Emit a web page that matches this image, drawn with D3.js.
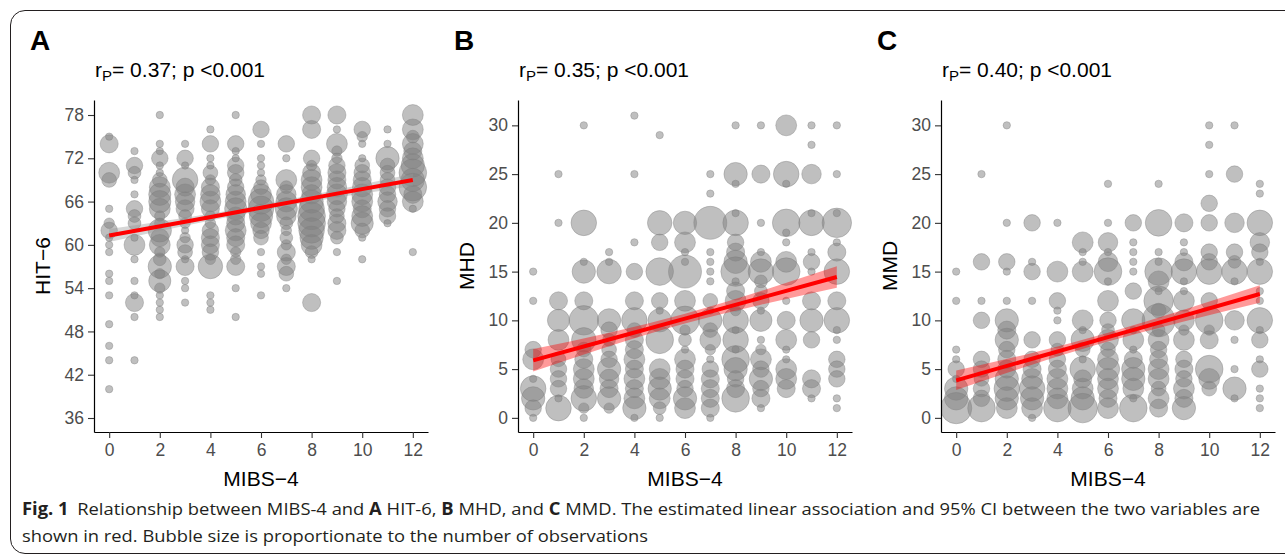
<!DOCTYPE html>
<html>
<head>
<meta charset="utf-8">
<script src="https://cdn.jsdelivr.net/npm/d3@7"></script>
<style>
  body { margin: 0; background: #fff; }
  svg text { font-family: "Liberation Sans", Arial, sans-serif; }
</style>
</head>
<body>
<svg id="fig" width="1285" height="555"></svg>
<script>
// MIBS-4 score (x) and the tick values of the axes
const mibs = [0, 1, 2, 3, 4, 5, 6, 7, 8, 9, 10, 11, 12]
const mibsTicks = [0, 2, 4, 6, 8, 10, 12]
const hitTicks = [36, 42, 48, 54, 60, 66, 72, 78]
const dayTicks = [0, 5, 10, 15, 20, 25, 30]

// bubbles: one list per MIBS-4 value, each entry [score, number of observations]
const hitCounts = [
    [[75,1],[74,6],[70,8],[69,4],[65,1],[63,2],[62,5],[61,1],[60,1],[59,1],[56,1],[55,1],[53,1],[49,1],[46,1],[44,1],[40,1]],
    [[73,1],[71,5],[70,3],[69,1],[67,1],[65,5],[64,3],[63,3],[61,1],[60,8],[58,1],[55,1],[53,1],[52,6],[50,1],[44,1]],
    [[78,1],[74,1],[73,1],[72,5],[71,1],[70,1],[69,4],[68,8],[67,9],[66,9],[65,8],[64,2],[63,2],[62,10],[61,6],[60,8],[59,2],[58,3],[57,10],[56,2],[55,9],[54,2],[53,1],[52,1],[51,1],[50,1]],
    [[74,1],[72,5],[71,1],[69,12],[68,6],[67,8],[66,7],[65,6],[64,3],[63,2],[62,1],[61,2],[60,5],[59,4],[58,1],[57,6],[55,1],[54,1],[52,1]],
    [[76,1],[74,5],[72,1],[71,1],[70,4],[69,2],[68,6],[67,7],[66,8],[65,6],[64,2],[63,2],[62,5],[61,6],[60,6],[59,5],[58,2],[57,11],[53,1],[52,1],[51,1]],
    [[78,1],[74,5],[73,1],[72,1],[71,5],[70,5],[69,3],[68,5],[67,7],[66,8],[65,9],[64,6],[63,6],[62,8],[61,6],[60,6],[59,2],[58,2],[57,6],[54,1],[50,1]],
    [[76,5],[74,1],[72,1],[71,1],[70,1],[69,2],[68,4],[67,8],[66,12],[65,12],[64,10],[63,8],[62,5],[61,4],[59,1],[57,1],[56,1],[53,1]],
    [[74,5],[72,1],[69,8],[68,3],[67,7],[66,8],[65,9],[64,7],[63,3],[62,2],[61,3],[60,2],[59,6],[58,2],[57,6],[56,4],[54,1]],
    [[78,6],[76,6],[72,5],[71,2],[70,6],[69,8],[68,8],[67,7],[66,10],[65,12],[64,14],[63,14],[62,12],[61,10],[60,8],[59,3],[58,1],[52,6]],
    [[78,6],[76,1],[74,8],[73,2],[72,2],[71,5],[70,6],[69,6],[68,7],[67,8],[66,7],[65,5],[64,4],[63,6],[62,6],[61,3],[59,1],[55,1]],
    [[76,5],[75,2],[74,1],[72,1],[71,4],[70,5],[69,6],[68,7],[67,8],[66,8],[65,6],[64,8],[63,9],[62,4],[61,1],[58,1]],
    [[76,1],[74,1],[72,10],[71,4],[70,4],[69,4],[68,5],[67,5],[66,7],[65,5],[64,5],[63,1]],
    [[78,8],[76,8],[75,3],[74,8],[73,6],[72,8],[71,10],[70,14],[69,10],[68,14],[67,6],[66,8],[65,1],[59,1]]
]

const mhdCounts = [
    [[15,1],[12,1],[7,5],[6,8],[4,1],[3,12],[2,10],[1,5],[0,1]],
    [[25,1],[20,1],[12,6],[10,9],[8,8],[6,4],[5,5],[4,5],[3,5],[2,1],[1,12]],
    [[30,1],[20,12],[16,1],[15,10],[12,6],[10,16],[8,11],[7,4],[6,6],[5,8],[4,8],[3,7],[2,12],[1,2],[0,1]],
    [[17,1],[16,1],[15,11],[10,10],[9,5],[8,3],[7,4],[6,5],[5,10],[4,7],[3,6],[2,10],[1,2]],
    [[31,1],[25,1],[18,1],[15,5],[12,6],[10,12],[9,4],[8,6],[7,6],[6,8],[5,6],[4,8],[3,6],[2,8],[1,10],[0,1]],
    [[29,1],[20,11],[18,5],[15,14],[12,5],[11,1],[10,10],[8,14],[5,8],[4,8],[3,10],[2,8],[1,3],[0,1]],
    [[20,10],[18,8],[17,1],[16,1],[15,20],[12,8],[10,15],[9,2],[8,3],[7,1],[6,8],[5,6],[4,6],[3,5],[2,10],[1,8]],
    [[25,1],[23,1],[20,20],[17,1],[16,1],[15,1],[14,1],[12,4],[11,1],[10,10],[9,4],[8,8],[7,2],[6,1],[5,5],[4,6],[3,6],[2,6],[1,6],[0,1]],
    [[30,1],[25,10],[24,1],[21,1],[20,12],[18,5],[17,6],[16,10],[15,16],[14,1],[13,6],[12,8],[11,2],[10,12],[9,1],[8,12],[7,1],[6,14],[5,10],[4,5],[3,6],[2,14]],
    [[30,1],[25,6],[20,1],[17,1],[16,8],[15,12],[14,3],[13,3],[12,5],[11,1],[10,9],[8,1],[7,2],[6,8],[5,5],[4,10],[3,5],[2,6],[1,1]],
    [[30,8],[25,12],[24,1],[20,14],[19,1],[18,1],[16,8],[15,14],[12,1],[10,6],[8,8],[7,1],[6,1],[5,8],[4,8],[3,6]],
    [[30,1],[28,1],[25,7],[21,1],[20,12],[17,1],[16,5],[15,1],[12,6],[10,10],[8,5],[4,6],[3,6],[2,1]],
    [[30,1],[25,1],[21,1],[20,16],[18,1],[17,6],[15,12],[12,6],[10,12],[9,1],[8,1],[6,5],[5,5],[4,5],[2,1],[1,1]]
]

const mmdCounts = [
    [[15,1],[12,1],[7,1],[6,1],[5,5],[4,1],[3,10],[2,10],[1,18]],
    [[25,1],[16,5],[12,1],[10,5],[6,5],[5,5],[4,4],[3,5],[2,5],[1,14]],
    [[30,1],[20,1],[16,5],[15,1],[12,1],[10,10],[9,6],[8,10],[7,5],[6,6],[5,6],[4,10],[3,12],[2,10],[1,8]],
    [[20,5],[16,1],[15,5],[12,1],[8,5],[6,5],[5,6],[4,8],[3,12],[2,10],[1,8],[0,1]],
    [[20,1],[15,8],[12,5],[11,1],[10,1],[8,5],[7,3],[6,5],[5,6],[4,8],[3,8],[2,8],[1,14]],
    [[18,8],[17,1],[16,1],[15,8],[10,8],[9,1],[8,10],[7,4],[6,1],[5,12],[4,6],[3,8],[2,10],[1,16]],
    [[24,1],[20,1],[18,7],[17,1],[16,7],[15,14],[14,1],[12,8],[10,5],[9,3],[8,8],[7,4],[6,8],[5,10],[4,8],[3,8],[2,6],[1,8]],
    [[20,5],[18,1],[17,1],[16,1],[15,1],[13,5],[10,10],[9,1],[8,8],[7,1],[6,6],[5,10],[4,10],[3,8],[2,1],[1,14]],
    [[24,1],[20,13],[17,1],[16,1],[15,14],[14,8],[13,1],[12,16],[11,4],[10,20],[9,3],[8,8],[7,5],[6,6],[5,8],[4,8],[3,4],[2,8],[1,6]],
    [[20,6],[18,1],[17,1],[16,6],[15,12],[14,1],[13,1],[12,8],[10,8],[9,2],[8,8],[6,5],[5,6],[4,5],[3,8],[2,6],[1,10]],
    [[30,1],[28,1],[25,1],[22,5],[20,5],[17,5],[16,5],[15,12],[12,5],[10,14],[9,2],[8,6],[5,14],[4,8],[3,4]],
    [[30,1],[25,5],[20,7],[17,5],[16,3],[15,12],[14,1],[10,7],[8,1],[5,1],[3,10],[2,1]],
    [[24,1],[23,1],[20,12],[18,7],[17,5],[16,1],[15,12],[13,1],[12,1],[10,12],[9,1],[8,5],[6,1],[5,5],[3,1],[2,1],[1,1]]
]

// fitted line and 95% CI, read at these MIBS-4 values
const fitX = [0, 3, 6, 9, 12]
const hitFit = [61.3, 63.2, 65.15, 67.1, 69.0]
const hitLo = [60.4, 62.65, 64.75, 66.55, 68.15]
const hitHi = [62.2, 63.75, 65.55, 67.65, 69.85]
const mhdFit = [5.9, 8.04, 10.18, 12.31, 14.45]
const mhdLo = [4.75, 7.34, 9.68, 11.61, 13.35]
const mhdHi = [7.05, 8.74, 10.68, 13.01, 15.55]
const mmdFit = [3.85, 6.06, 8.28, 10.49, 12.7]
const mmdLo = [2.85, 5.46, 7.83, 9.89, 11.8]
const mmdHi = [4.85, 6.66, 8.73, 11.09, 13.6]

const labels = ['A', 'B', 'C']
const yTitles = ['HIT\u22126', 'MHD', 'MMD']
const corr = ['0.37', '0.35', '0.40']

const panels = [
    { left: 94, counts: hitCounts, ticks: hitTicks, yDomain: [34.06, 80.08], fit: hitFit, lo: hitLo, hi: hitHi, band: 'rgba(153,153,153,0.4)' },
    { left: 518, counts: mhdCounts, ticks: dayTicks, yDomain: [-1.45, 32.6], fit: mhdFit, lo: mhdLo, hi: mhdHi, band: 'rgba(255,0,0,0.4)' },
    { left: 941, counts: mmdCounts, ticks: dayTicks, yDomain: [-1.45, 32.6], fit: mmdFit, lo: mmdLo, hi: mmdHi, band: 'rgba(255,0,0,0.4)' }
]

const svg = d3.select('#fig')
const plotTop = 100
const plotBottom = 432
const panelWidth = 334
const rScale = d3.scaleSqrt().domain([0, 20]).range([0, 16.5])

// frame round the figure
svg.append('path')
    .attr('d', 'M1290,10.5 H25 A14.5,14.5 0 0 0 10.5,25 V539 A14.5,14.5 0 0 0 25,553.5 H1290')
    .attr('fill', 'none')
    .attr('stroke', '#231f20')
    .attr('stroke-width', 1)

panels.forEach((p, k) => {
    const x = d3.scaleLinear().domain([-0.6, 12.6]).range([p.left, p.left + panelWidth])
    const y = d3.scaleLinear().domain(p.yDomain).range([plotBottom, plotTop])
    const g = svg.append('g')

    g.append('clipPath').attr('id', 'clip' + k)
        .append('rect')
        .attr('x', p.left).attr('y', plotTop)
        .attr('width', panelWidth).attr('height', plotBottom - plotTop)

    const pts = p.counts.flatMap((col, i) => col.map((d) => ({ m: mibs[i], v: d[0], n: d[1] })))
    const plot = g.append('g').attr('clip-path', `url(#clip${k})`)
    plot.selectAll('circle')
        .data(pts)
        .enter()
        .append('circle')
        .attr('cx', (d) => x(d.m))
        .attr('cy', (d) => y(d.v))
        .attr('r', (d) => rScale(d.n))
        .attr('fill', '#7f7f7f')
        .attr('fill-opacity', 0.5)
        .attr('stroke', '#7f7f7f')
        .attr('stroke-opacity', 0.5)
        .attr('stroke-width', 0.8)

    const area = d3.area()
        .x((d, i) => x(fitX[i]))
        .y0((d, i) => y(p.lo[i]))
        .y1((d, i) => y(p.hi[i]))
        .curve(d3.curveNatural)
    plot.append('path').attr('d', area(fitX)).attr('fill', p.band)

    const line = d3.line().x((d, i) => x(fitX[i])).y((d) => y(d))
    plot.append('path').attr('d', line(p.fit))
        .attr('fill', 'none').attr('stroke', '#ff0000').attr('stroke-width', 4)

    const yAxis = d3.axisLeft(y).tickValues(p.ticks).tickSize(6).tickSizeOuter(0).tickPadding(4)
    const xAxis = d3.axisBottom(x).tickValues(mibsTicks).tickSize(6).tickSizeOuter(0).tickPadding(6)
    const ya = g.append('g').attr('transform', `translate(${p.left},0)`).call(yAxis)
    const xa = g.append('g').attr('transform', `translate(0,${plotBottom})`).call(xAxis)
    ;[ya, xa].forEach((a) => {
        a.select('.domain').attr('stroke', '#000').attr('stroke-width', 1.2)
        a.selectAll('.tick line').attr('stroke', '#333').attr('stroke-width', 1.1)
        a.selectAll('.tick text').attr('fill', '#4d4d4d').style('font-size', '17.5px')
            .style('font-family', '"Liberation Sans", Arial, sans-serif')
    })

    g.append('text')
        .attr('x', (p.left + p.left + panelWidth) / 2).attr('y', 486)
        .attr('text-anchor', 'middle').style('font-size', '21px').attr('fill', '#000')
        .text('MIBS\u22124')

    g.append('text')
        .attr('transform', `translate(${p.left - 44},${(plotTop + plotBottom) / 2}) rotate(-90)`)
        .attr('text-anchor', 'middle').style('font-size', '21px').attr('fill', '#000')
        .text(yTitles[k])

    const t = g.append('text').attr('x', p.left + 1).attr('y', 77).style('font-size', '21px').attr('fill', '#000')
    t.append('tspan').text('r')
    t.append('tspan').attr('dy', 4).style('font-size', '15px').text('P')
    t.append('tspan').attr('dy', -4).text(`= ${corr[k]}; p <0.001`)

    g.append('text')
        .attr('x', p.left - 64).attr('y', 50)
        .style('font-size', '28px').style('font-weight', 'bold').attr('fill', '#000')
        .text(labels[k])
})

// caption
const cap1 = svg.append('text').attr('x', 22).attr('y', 515)
    .attr('textLength', 1238).attr('lengthAdjust', 'spacingAndGlyphs')
    .style('font-family', '"Open Sans", sans-serif').style('font-size', '17px').attr('fill', '#231f20')
cap1.append('tspan').style('font-weight', 'bold').text('Fig. 1')
cap1.append('tspan').attr('dx', 8).text('Relationship between MIBS-4 and ')
cap1.append('tspan').style('font-weight', 'bold').text('A')
cap1.append('tspan').text(' HIT-6, ')
cap1.append('tspan').style('font-weight', 'bold').text('B')
cap1.append('tspan').text(' MHD, and ')
cap1.append('tspan').style('font-weight', 'bold').text('C')
cap1.append('tspan').text(' MMD. The estimated linear association and 95% CI between the two variables are')

svg.append('text').attr('x', 22).attr('y', 542)
    .attr('textLength', 626).attr('lengthAdjust', 'spacingAndGlyphs')
    .style('font-family', '"Open Sans", sans-serif').style('font-size', '17px').attr('fill', '#231f20')
    .text('shown in red. Bubble size is proportionate to the number of observations')
</script>
</body>
</html>
